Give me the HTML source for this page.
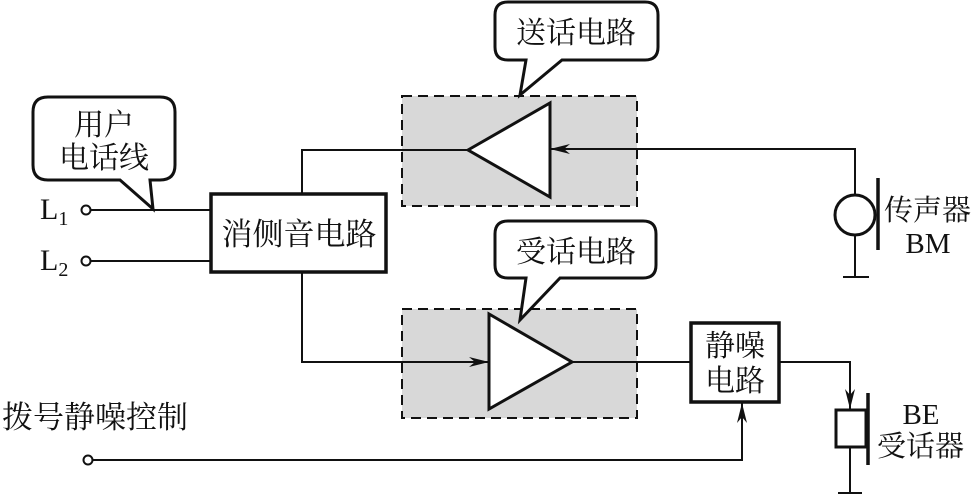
<!DOCTYPE html>
<html><head><meta charset="utf-8"><style>
body{margin:0;background:#fff}
svg{display:block}
text{font-family:"Liberation Serif","Noto Serif CJK SC","Noto Sans CJK SC",serif;fill:#111}
</style></head><body>
<svg width="975" height="497" viewBox="0 0 975 497" xmlns="http://www.w3.org/2000/svg">
<defs>
<marker id="a" viewBox="0 0 20 10" refX="20" refY="5" markerWidth="20" markerHeight="10" markerUnits="userSpaceOnUse" orient="auto">
<path d="M0,0 L20,5 L0,10 L6,5 Z" fill="#111"/></marker>
</defs>
<g stroke="#111" fill="none" stroke-width="2">
<rect x="402" y="96" width="235" height="110" fill="#d8d8d8" stroke-dasharray="10,6"/>
<rect x="402" y="309" width="235" height="109" fill="#d8d8d8" stroke-dasharray="10,6"/>
<line x1="90" y1="210" x2="211" y2="210"/>
<line x1="90" y1="261" x2="211" y2="261"/>
<polyline points="302,194 302,150 468,150"/>
<polyline points="855,195 855,149 550,149" marker-end="url(#a)"/>
<polyline points="302,272 302,362 489,362" marker-end="url(#a)"/>
<line x1="572" y1="362" x2="691" y2="362"/>
<polyline points="779,362 850,362 850,409" marker-end="url(#a)"/>
<polyline points="92,460 742,460 742,403" marker-end="url(#a)"/>
<circle cx="86" cy="210" r="4.5" fill="#fff"/>
<circle cx="86" cy="261" r="4.5" fill="#fff"/>
<circle cx="88" cy="460" r="4.5" fill="#fff"/>
<polygon points="468,150 550,103 550,197" fill="#fff" stroke-width="3"/>
<polygon points="489,314 489,409 572,362" fill="#fff" stroke-width="3"/>
<rect x="211" y="194" width="175" height="78" fill="#fff" stroke-width="3.5"/>
<rect x="691" y="323" width="88" height="79" fill="#fff" stroke-width="3.5"/>
<line x1="855" y1="235" x2="855" y2="277"/>
<line x1="843" y1="277" x2="869" y2="277"/>
<circle cx="855" cy="215" r="20" fill="#fff" stroke-width="3"/>
<line x1="878" y1="178" x2="878" y2="250" stroke-width="3.5"/>
<rect x="836" y="410" width="30" height="37" fill="#fff" stroke-width="3"/>
<line x1="868" y1="393" x2="868" y2="465" stroke-width="3.5"/>
<line x1="850" y1="447" x2="850" y2="493"/>
<line x1="838" y1="493" x2="862" y2="493"/>
<path d="M48,97 H160 Q175,97 175,112 V165 Q175,180 160,180 H150 L153,209 L120,180 H48 Q33,180 33,165 V112 Q33,97 48,97 Z" fill="#fff" stroke-width="3"/>
<path d="M508,2 H645 Q658,2 658,15 V47 Q658,60 645,60 H562 L520,95 L526,60 H508 Q495,60 495,47 V15 Q495,2 508,2 Z" fill="#fff" stroke-width="3"/>
<path d="M508,221 H643 Q656,221 656,234 V265 Q656,278 643,278 H560 L520,320 L526,278 H508 Q495,278 495,265 V234 Q495,221 508,221 Z" fill="#fff" stroke-width="3"/>
</g>
<g font-size="30">
<text x="104" y="135" text-anchor="middle">用户</text>
<text x="104" y="168" text-anchor="middle">电话线</text>
<text x="576" y="43" text-anchor="middle">送话电路</text>
<text x="576" y="262" text-anchor="middle">受话电路</text>
<text x="299" y="245" text-anchor="middle" font-size="31">消侧音电路</text>
<text x="735" y="356" text-anchor="middle">静噪</text>
<text x="735" y="391" text-anchor="middle">电路</text>
<text x="884" y="220" font-size="29">传声器</text>
<text x="928" y="253" text-anchor="middle" font-size="29">BM</text>
<text x="921" y="424" text-anchor="middle" font-size="29">BE</text>
<text x="877" y="456" font-size="29">受话器</text>
<text x="2" y="428" font-size="31">拨号静噪控制</text>
<text x="40" y="219">L<tspan font-size="20" dy="6">1</tspan></text>
<text x="40" y="270">L<tspan font-size="20" dy="6">2</tspan></text>
</g>
</svg>
</body></html>
